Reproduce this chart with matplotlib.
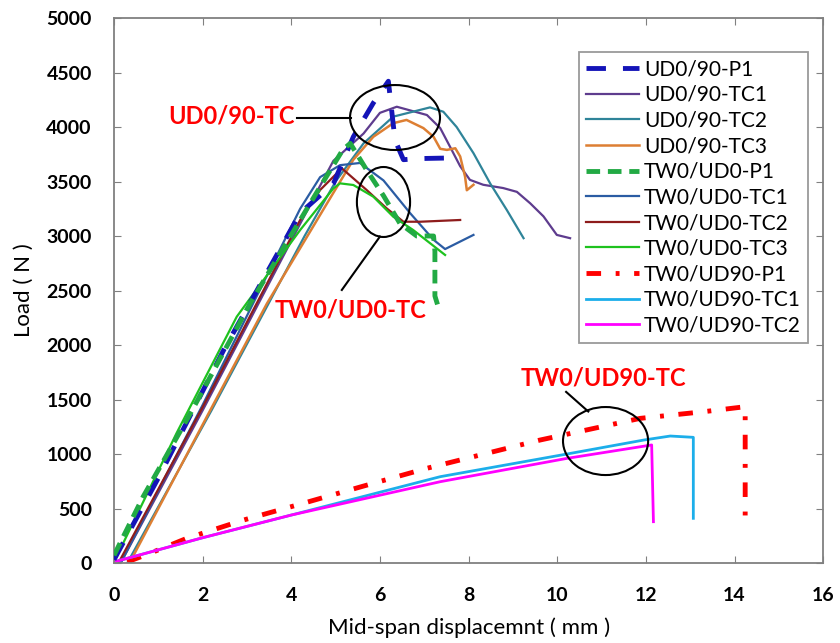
# load-displacement curves, three-point bending
import matplotlib
matplotlib.use('Agg')
import matplotlib.pyplot as plt
from matplotlib.patches import Ellipse

plt.rcParams['font.family'] = ['Lato', 'DejaVu Sans']

# curve data
ud090_p1_x = [0.0, 1.0, 2.47, 4.2, 4.95, 5.4, 5.85, 6.19, 6.34, 6.53, 6.83, 7.47]
ud090_p1_y = [30, 780, 1950, 3210, 3480, 3910, 4220, 4420, 3880, 3700, 3710, 3715]

ud090_tc1_x = [0.15, 2.0, 4.57, 4.95, 5.63, 6.0, 6.38, 7.06, 7.36, 7.58, 7.81, 8.03, 8.33, 8.78, 9.09, 9.39, 9.69, 9.99, 10.29]
ud090_tc1_y = [0, 1400, 3400, 3690, 3940, 4130, 4186, 4110, 3990, 3820, 3640, 3515, 3470, 3440, 3405, 3300, 3180, 3010, 2980]

ud090_tc2_x = [0.3, 2.2, 4.3, 5.0, 5.63, 6.3, 7.13, 7.43, 7.73, 8.11, 8.49, 8.86, 9.24]
ud090_tc2_y = [0, 1400, 3000, 3500, 3850, 4095, 4180, 4140, 4000, 3760, 3480, 3240, 2980]

ud090_tc3_x = [0.35, 2.17, 3.45, 4.94, 5.4, 5.85, 6.3, 6.6, 6.98, 7.21, 7.36, 7.51, 7.70, 7.81, 7.92, 7.96, 8.11]
ud090_tc3_y = [0, 1400, 2380, 3390, 3700, 3910, 4035, 4065, 3990, 3910, 3800, 3790, 3805, 3730, 3545, 3420, 3470]

tw0ud0_p1_x = [0.0, 0.66, 1.72, 3.07, 4.56, 5.16, 5.33, 5.70, 6.08, 6.45, 6.83, 7.21, 7.24, 7.24, 7.3, 7.36]
tw0ud0_p1_y = [70, 610, 1370, 2380, 3390, 3790, 3850, 3606, 3370, 3116, 3000, 3000, 2860, 2450, 2370, 2390]

tw0ud0_tc1_x = [0.15, 2.0, 4.2, 4.65, 5.1, 5.55, 6.08, 6.68, 7.21, 7.47, 8.11]
tw0ud0_tc1_y = [0, 1450, 3250, 3540, 3650, 3670, 3510, 3210, 2965, 2880, 3010]

tw0ud0_tc2_x = [0.1, 2.0, 4.2, 4.65, 5.14, 5.70, 6.15, 6.53, 6.91, 7.81]
tw0ud0_tc2_y = [0, 1430, 3147, 3422, 3621, 3422, 3254, 3131, 3131, 3147]

tw0ud0_tc3_x = [0.05, 1.41, 2.77, 4.2, 4.95, 5.1, 5.40, 5.85, 6.30, 6.75, 7.47]
tw0ud0_tc3_y = [50, 1190, 2260, 3055, 3437, 3483, 3468, 3361, 3177, 3055, 2826]

tw0ud90_p1_x = [0.3, 0.81, 1.64, 2.92, 4.27, 5.63, 7.06, 7.66, 9.61, 11.87, 13.30, 14.24, 14.24]
tw0ud90_p1_y = [10, 89, 226, 394, 548, 706, 869, 930, 1128, 1327, 1388, 1434, 349]

tw0ud90_tc1_x = [0.02, 2.0, 4.0, 7.36, 10.22, 11.95, 12.55, 13.07, 13.07]
tw0ud90_tc1_y = [12, 232, 440, 792, 1000, 1128, 1165, 1153, 410]

tw0ud90_tc2_x = [0.02, 2.0, 4.0, 7.36, 10.22, 12.13, 12.17]
tw0ud90_tc2_y = [12, 232, 440, 746, 960, 1083, 379]

labels = ['UD0/90-P1', 'UD0/90-TC1', 'UD0/90-TC2', 'UD0/90-TC3',
          'TW0/UD0-P1', 'TW0/UD0-TC1', 'TW0/UD0-TC2', 'TW0/UD0-TC3',
          'TW0/UD90-P1', 'TW0/UD90-TC1', 'TW0/UD90-TC2']

fig = plt.figure(figsize=(8.4, 6.43), dpi=100)
ax = fig.add_axes([0.1357, 0.1244, 0.8443, 0.8476])

ax.plot(ud090_p1_x, ud090_p1_y, color='#1414B8', lw=3.5, dashes=(4, 3.5), label=labels[0], zorder=5)
ax.plot(ud090_tc1_x, ud090_tc1_y, color='#5E3C8E', lw=1.6, label=labels[1])
ax.plot(ud090_tc2_x, ud090_tc2_y, color='#2F8499', lw=1.6, label=labels[2])
ax.plot(ud090_tc3_x, ud090_tc3_y, color='#DD7F33', lw=1.8, label=labels[3])
ax.plot(tw0ud0_p1_x, tw0ud0_p1_y, color='#22AA44', lw=3.5, dashes=(2.8, 1.6), label=labels[4], zorder=5)
ax.plot(tw0ud0_tc1_x, tw0ud0_tc1_y, color='#2B5CA3', lw=1.6, label=labels[5])
ax.plot(tw0ud0_tc2_x, tw0ud0_tc2_y, color='#8E1C1C', lw=1.6, label=labels[6])
ax.plot(tw0ud0_tc3_x, tw0ud0_tc3_y, color='#1EC21E', lw=1.6, label=labels[7])
ax.plot(tw0ud90_p1_x, tw0ud90_p1_y, color='#FF0000', lw=3.5, dashes=(3, 3, 0.8, 3), label=labels[8])
ax.plot(tw0ud90_tc1_x, tw0ud90_tc1_y, color='#1CAEEA', lw=2.0, label=labels[9])
ax.plot(tw0ud90_tc2_x, tw0ud90_tc2_y, color='#FF00FF', lw=2.0, label=labels[10])

ax.set_xlim(0, 16)
ax.set_ylim(0, 5000)
ax.set_xticks(range(0, 17, 2))
ax.set_yticks(range(0, 5001, 500))
ax.tick_params(direction='in', top=True, right=True, length=5, color='#808080',
               labelsize=14)
ax.tick_params(axis='x', pad=17)
ax.tick_params(axis='y', pad=16)
for lab in ax.get_xticklabels() + ax.get_yticklabels():
    lab.set_fontweight('bold')
for s in ax.spines.values():
    s.set_color('#808080')
    s.set_linewidth(1.3)

ax.set_xlabel('Mid-span displacemnt ( mm )', fontsize=16, labelpad=10)
ax.set_ylabel('Load ( N )', fontsize=16, labelpad=9)

leg = ax.legend(loc='upper right', bbox_to_anchor=(0.979, 0.9376), fontsize=15,
                frameon=True, fancybox=False, handlelength=2.55, handletextpad=0.25,
                labelspacing=0.27, borderpad=0.35, borderaxespad=0)
leg.get_frame().set_edgecolor('#808080')
leg.get_frame().set_linewidth(1.3)

# annotations: red group names, leader lines and circles
ax.add_patch(Ellipse((6.34, 4087), 2.03, 596, fill=False, ec='black', lw=1.5, zorder=6))
ax.add_patch(Ellipse((6.08, 3312), 1.2, 642, fill=False, ec='black', lw=1.5, zorder=6))
ax.add_patch(Ellipse((11.09, 1119), 1.92, 624, fill=False, ec='black', lw=1.5, zorder=6))

ax.plot([4.13, 5.35], [4080, 4080], color='black', lw=1.5, zorder=6)
ax.plot([5.14, 6.0], [2505, 2995], color='black', lw=1.5, zorder=6)
ax.plot([10.2, 10.7], [1570, 1390], color='black', lw=1.5, zorder=6)

ax.text(2.65, 4100, 'UD0/90-TC', color='#FF0000', fontsize=17, fontweight='bold',
        ha='center', va='center', zorder=7)
ax.text(5.33, 2320, 'TW0/UD0-TC', color='#FF0000', fontsize=17, fontweight='bold',
        ha='center', va='center', zorder=7)
ax.text(11.05, 1700, 'TW0/UD90-TC', color='#FF0000', fontsize=17, fontweight='bold',
        ha='center', va='center', zorder=7)

fig.savefig('out.png', dpi=100)
